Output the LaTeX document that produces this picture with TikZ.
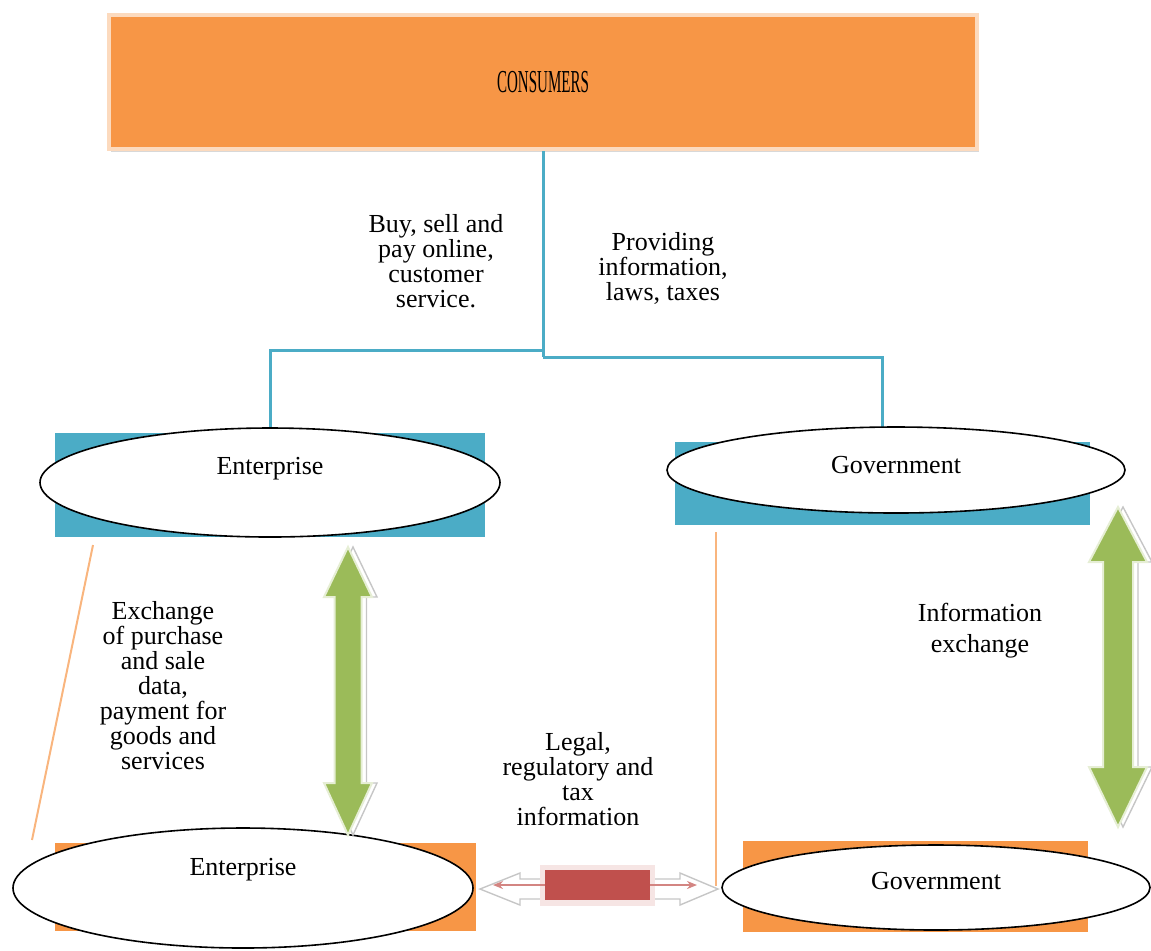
\documentclass[tikz,border=0pt]{standalone}
\usepackage{fontspec}
\setmainfont{Liberation Serif}
\usepackage{graphicx}
\usetikzlibrary{shapes.geometric,shadows,arrows.meta}
\definecolor{orng}{HTML}{F79646}
\definecolor{tealc}{HTML}{4BACC6}
\definecolor{grn}{HTML}{9BBB59}
\definecolor{rd}{HTML}{C0504D}
% x, top tip, top head base, bottom head base, bottom tip, shaft half, head half
\newcommand{\greenarrow}[7]{%
  \draw[gray!45, line width=0.7pt, xshift=2.5pt]
    (#1,#2) -- (#1+#7,#3) -- (#1+#6,#3) -- (#1+#6,#4) -- (#1+#7,#4) -- (#1,#5)
    -- (#1-#7,#4) -- (#1-#6,#4) -- (#1-#6,#3) -- (#1-#7,#3) -- cycle;
  \filldraw[fill=grn, draw=grn!25, line width=1pt]
    (#1,#2) -- (#1+#7,#3) -- (#1+#6,#3) -- (#1+#6,#4) -- (#1+#7,#4) -- (#1,#5)
    -- (#1-#7,#4) -- (#1-#6,#4) -- (#1-#6,#3) -- (#1-#7,#3) -- cycle;
}

\begin{document}
\begin{tikzpicture}[x=0.5pt,y=-0.5pt,
    every node/.style={font=\fontsize{13}{12.5}\selectfont},
    consbox/.style={fill=orng, draw=orng!35, line width=2pt,
      minimum width=434pt, minimum height=67pt,
      drop shadow={shadow xshift=1pt, shadow yshift=-1.5pt, fill=gray!60}},
    tealbox/.style={fill=tealc, inner sep=0pt},
    orngbox/.style={fill=orng, inner sep=0pt},
    oval/.style={ellipse, draw, fill=white, line width=0.8pt, inner sep=0pt},
    txt/.style={align=center, inner sep=0pt},
    link/.style={draw=tealc, line width=1.5pt},
    thinline/.style={draw=orng!70, line width=1pt},
    redbar/.style={fill=rd, inner sep=0pt, minimum width=52.5pt, minimum height=15pt}]
  \useasboundingbox (0,0) rectangle (1151,950);

  \node[consbox, font=\fontsize{16}{16}\selectfont] (cons) at (543,82)
    {\scalebox{0.47}[1]{CONSUMERS}};

  \node[tealbox, minimum width=215pt, minimum height=52pt] (entTbox) at (270,485) {};
  \node[tealbox, minimum width=207.5pt, minimum height=41.5pt] (govTbox) at (882.5,483.5) {};
  \node[orngbox, minimum width=210.5pt, minimum height=44pt] (entBbox) at (265.5,887) {};
  \node[orngbox, minimum width=172.5pt, minimum height=45.5pt] (govBbox) at (915.5,886.5) {};

  % consumers to both sides
  \coordinate (jl) at (543,350);
  \coordinate (jr) at (543,357);
  \draw[link] (cons.south) -- (jr);
  \draw[link] (jl) -| (entTbox.north);
  \draw[link] (jr) -| (govTbox.north);

  \coordinate (olA) at (93,545);
  \coordinate (olB) at (32,840);
  \coordinate (orA) at (716,532);
  \coordinate (orB) at (716,886);
  \draw[thinline] (olA) -- (olB);
  \draw[thinline] (orA) -- (orB);

  \node[oval, minimum width=230pt, minimum height=54.5pt,
    label={[yshift=7pt]center:Enterprise}] (entT) at (270,482.5) {};
  \node[oval, minimum width=229pt, minimum height=43pt,
    label={[yshift=2.5pt]center:Government}] (govT) at (896,470) {};
  \node[oval, minimum width=230pt, minimum height=60pt,
    label={[yshift=9pt]center:Enterprise}] (entB) at (243,888) {};
  \node[oval, minimum width=214pt, minimum height=42.5pt,
    label={[yshift=3.5pt]center:Government}] (govB) at (936,887.5) {};

  \node[txt] (buy) at (436,261) {Buy, sell and\\pay online,\\customer\\service.};
  \node[txt] (prov) at (663,268) {Providing\\information,\\laws, taxes};
  \node[txt] (exch) at (163,686) {Exchange\\of purchase\\and sale\\data,\\payment for\\goods and\\services};
  \node[txt] (info) at (980,631) {Information\\[3pt]exchange};
  \node[txt] (legal) at (578,779) {Legal,\\regulatory and\\tax\\information};

  \greenarrow{348}{547}{597}{783}{835}{13.5}{24}
  \greenarrow{1118}{507}{562}{767}{827}{15}{29}

  % legal info between the lower boxes
  \draw[gray!45, line width=0.7pt] (480,889) -- (520,873) -- (520,879) -- (680,879)
    -- (680,873) -- (718,889) -- (680,905) -- (680,899) -- (520,899) -- (520,905) -- cycle;
  \fill[rd!15] (540,865) rectangle (655,906);
  \node[redbar] (lgl) at (597.5,885) {};
  \coordinate (lgA) at (493,885);
  \coordinate (lgB) at (697,885);
  \draw[rd!70, line width=0.8pt, -{Stealth[length=5pt,width=4pt]}] (lgl.west) -- (lgA);
  \draw[rd!70, line width=0.8pt, -{Stealth[length=5pt,width=4pt]}] (lgl.east) -- (lgB);
\end{tikzpicture}
\end{document}
